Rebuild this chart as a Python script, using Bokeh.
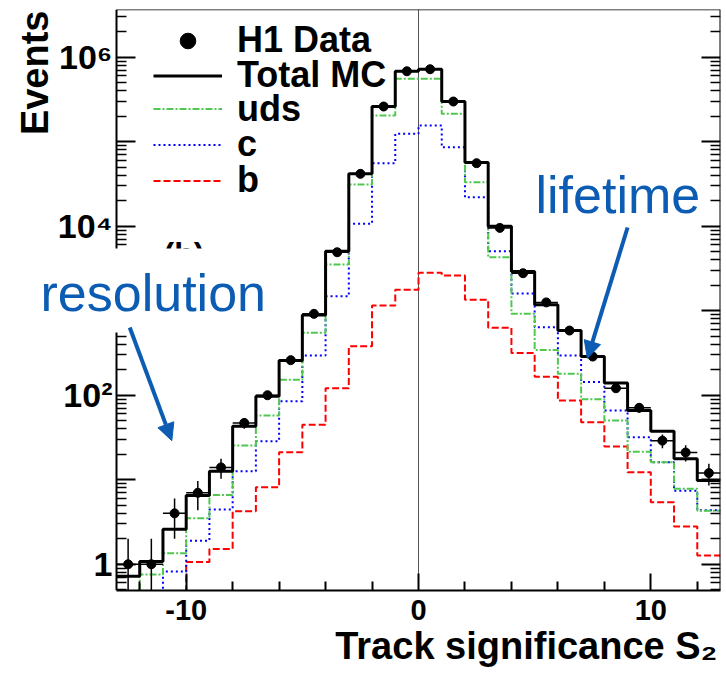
import numpy as np
from bokeh.plotting import figure
from bokeh.models import (Range1d, FixedTicker, LogAxis, LinearAxis, Label, Arrow,
                          NormalHead, Span, Legend, LegendItem, Title, BoxAnnotation)
from bokeh.embed import file_html
from bokeh.resources import INLINE

# ---------------- data ----------------
bin_edges = list(range(-13, 14))                       # 26 bins of width 1
bin_centers = [e + 0.5 for e in range(-13, 13)]

h1_data = [1, 1, 4, 7, 14, 47, 100, 260, 919, 4920, 41700, 261000, 682000,
           721000, 299000, 55700, 9560, 2780, 1255, 583, 287, 121, 71, 29, 21, 12]
total_mc = [0.72, 1.08, 2.6, 6.5, 12.6, 43, 97, 258, 890, 5060, 41700, 261000, 682000,
            721000, 299000, 56800, 10000, 2910, 1175, 583, 287, 140, 66, 37.5, 17.7, 9.8]
uds = [0.45, 0.755, 1.35, 3.5, 6.6, 25.5, 57.5, 152, 547, 3520, 31100, 204000, 555000,
       555000, 214000, 33200, 4300, 918, 344, 179, 89.7, 50.2, 21.4, 16.1, 7.8, 4.3]
c_quark = [0.18, 0.2, 0.82, 1.9, 4.45, 12.6, 28.6, 85, 295, 1485, 10700, 55700, 124000,
           156000, 86100, 22000, 5060, 1600, 638, 295, 143, 66, 31.8, 16.1, 7.4, 4.35]
b_quark = [0.09, 0.12, 0.42, 1.06, 1.52, 4.24, 8.15, 21.1, 44.7, 121, 380, 1150, 1770,
           2810, 2610, 1345, 628, 317, 166, 86.5, 47.9, 24.7, 12.3, 5.4, 2.8, 1.27]

x_min, x_max = -13, 13
y_min, y_max = 0.489, 3.67e6
x_tick_values = [-10, 0, 10]
x_tick_labels = ["-10", "0", "10"]
x_minor_values = [-12, -8, -6, -4, -2, 2, 4, 6, 8, 12]
y_major_values = [1, 10, 100, 1e3, 1e4, 1e5, 1e6]
y_tick_labels = ["1", "", "10²", "", "10⁴", "", "10⁶"]

series_names = ["H1 Data", "Total MC", "uds", "c", "b"]
x_title = "Track significance S₂"
y_title = "Events"

res_arrow_x = [-12.43, -10.62]
res_arrow_y = [632, 29]
life_arrow_x = [9.0, 7.27]
life_arrow_y = [9660, 273]

# ---------------- layout / styles ----------------
W, H = 726, 682
AXIS_LEFT_PX = 116          # where the y axis sits
FRAME_RIGHT_PX = 720
FRAME_TOP_PX = 9
FRAME_BOTTOM_PX = 590
ppu = (FRAME_RIGHT_PX - AXIS_LEFT_PX) / (x_max - x_min)
x_view_start = x_min - AXIS_LEFT_PX / ppu     # frame extends to the canvas left edge

FONT = "Liberation Sans"
GREEN = "#50c850"
BLUE = "#0000ff"
RED = "#ff0000"
ANNOT = "#0b5cb2"
MID = 0.347   # (ascent - descent) / 2 in em, to turn a baseline into a box centre

p = figure(width=W, height=H, x_range=Range1d(x_view_start, x_max),
           y_range=Range1d(y_min, y_max), y_axis_type="log",
           output_backend="svg", toolbar_location=None,
           min_border_left=0, min_border_right=W - FRAME_RIGHT_PX,
           min_border_top=FRAME_TOP_PX, min_border_bottom=H - FRAME_BOTTOM_PX)
p.xgrid.visible = False
p.ygrid.visible = False
p.outline_line_color = None
p.background_fill_color = "white"
p.border_fill_color = "white"

# vertical line at zero
p.add_layout(Span(location=0, dimension="height", line_color="#555555",
                  line_width=1, level="underlay"))

def step_y(vals):
    return list(vals) + [vals[-1]]

r_b = p.step(bin_edges, step_y(b_quark), mode="after", line_color=RED,
             line_width=2, line_dash="7 3")
r_c = p.step(bin_edges, step_y(c_quark), mode="after", line_color=BLUE,
             line_width=2, line_dash="2 3")
r_uds = p.step(bin_edges, step_y(uds), mode="after", line_color=GREEN,
               line_width=2, line_dash="7 2 2 2")
r_tot = p.step(bin_edges, step_y(total_mc), mode="after", line_color="black",
               line_width=3)

# data with sqrt(N) errors
n = np.array(h1_data, dtype=float)
xc = np.array(bin_centers)
err = np.sqrt(n)
p.segment(x0=xc, y0=np.maximum(n - err, y_min), x1=xc, y1=n + err,
          line_color="black", line_width=1.5)
p.segment(x0=xc - 0.5, y0=n, x1=xc + 0.5, y1=n, line_color="black", line_width=1.5)
r_data = p.scatter(xc, n, size=9, color="black")

# ---------------- axes ----------------
xa = p.xaxis[0]
xa.bounds = (x_min, x_max)
xa.ticker = FixedTicker(ticks=x_tick_values, minor_ticks=x_minor_values)
xa.major_label_overrides = {v: s for v, s in zip(x_tick_values, x_tick_labels)}
xa.major_tick_in = 17
xa.major_tick_out = 0
xa.minor_tick_in = 9
xa.minor_tick_out = 0
xa.axis_line_width = 2
xa.major_tick_line_width = 2
xa.minor_tick_line_width = 2
xa.major_label_text_font = FONT
xa.major_label_text_font_style = "bold"
xa.major_label_text_font_size = "29px"
xa.major_label_text_color = "black"
xa.major_label_standoff = 9

y_minor = [m * 10.0 ** e for e in range(-1, 7) for m in range(2, 10)]
ya = p.yaxis[0]
ya.fixed_location = x_min
ya.ticker = FixedTicker(ticks=y_major_values, minor_ticks=y_minor)
ya.major_label_overrides = {float(v): s for v, s in zip(y_major_values, y_tick_labels)}
ya.major_tick_in = 19
ya.major_tick_out = 0
ya.minor_tick_in = 10
ya.minor_tick_out = 0
ya.axis_line_width = 2
ya.major_tick_line_width = 2
ya.minor_tick_line_width = 1.5
ya.major_label_text_font = FONT
ya.major_label_text_font_style = "bold"
ya.major_label_text_font_size = "34px"
ya.major_label_text_color = "black"
ya.major_label_standoff = 4

ra = LogAxis(fixed_location=x_max,
             ticker=FixedTicker(ticks=y_major_values, minor_ticks=y_minor),
             major_label_overrides={float(v): "" for v in y_major_values},
             major_label_text_font_size="0px", major_label_standoff=0,
             major_tick_in=19, major_tick_out=0, minor_tick_in=10, minor_tick_out=0,
             axis_line_width=2, major_tick_line_width=2, minor_tick_line_width=1.5)
p.add_layout(ra, "right")

ta = LinearAxis(fixed_location=y_max, bounds=(x_min, x_max),
                ticker=FixedTicker(ticks=[], minor_ticks=[]),
                major_label_text_font_size="0px", major_label_standoff=0,
                major_tick_in=0, major_tick_out=0, minor_tick_in=0, minor_tick_out=0,
                axis_line_width=1.5)
p.add_layout(ta, "above")

p.add_layout(Title(text=x_title, align="right", offset=3, standoff=0,
                   text_font=FONT, text_font_style="bold", text_font_size="38px",
                   text_color="black"), "below")

# ---------------- legend (one box per row for exact spacing) ----------------
legend_renderers = [r_data, r_tot, r_uds, r_c, r_b]
row_centers_px = [41.7, 76.7, 110.0, 145.7, 181.7]
ROW_H = 39
for name, rend, cy in zip(series_names, legend_renderers, row_centers_px):
    lg = Legend(items=[LegendItem(label=name, renderers=[rend])],
                location=(153, FRAME_BOTTOM_PX - cy - ROW_H / 2),
                label_text_font=FONT, label_text_font_style="bold",
                label_text_font_size="36px", label_text_color="black",
                glyph_width=69, glyph_height=ROW_H,
                label_height=ROW_H, spacing=0, padding=0, margin=0, label_standoff=15,
                border_line_alpha=0, background_fill_alpha=0)
    p.add_layout(lg)

# ---------------- titles & annotations ----------------
def lab(x_px, base_px, fs, **kw):
    """Label whose text baseline sits at screen row base_px (from the top)."""
    return Label(x=x_px, y=FRAME_BOTTOM_PX - (base_px - MID * fs), x_units="screen",
                 y_units="screen", text_baseline="middle", text_font=FONT,
                 text_font_size=f"{fs}px", **kw)

# rotated y title: baseline is the column x=48, text ends at row 10
p.add_layout(Label(x=48 - MID * 38, y=FRAME_BOTTOM_PX - 10, x_units="screen",
                   y_units="screen", text=y_title, angle=90, angle_units="deg",
                   text_align="right", text_baseline="middle", text_font=FONT,
                   text_font_style="bold", text_font_size="38px", text_color="black"))
p.add_layout(lab(163, 265, 32, text="(b)", text_align="left", text_font_style="bold",
                 text_color="black"))
# white box of the "resolution" text (hides part of the axis and of "(b)")
p.add_layout(BoxAnnotation(left=30, right=282, top=FRAME_BOTTOM_PX - 248,
                           bottom=FRAME_BOTTOM_PX - 332, left_units="screen",
                           right_units="screen", top_units="screen",
                           bottom_units="screen", fill_color="white", fill_alpha=1.0,
                           line_color=None))
p.add_layout(lab(40, 311, 52, text="resolution", text_align="left", text_color=ANNOT))
p.add_layout(lab(535, 213, 52, text="lifetime", text_align="left", text_color=ANNOT))

for ax_, ay_ in ((res_arrow_x, res_arrow_y), (life_arrow_x, life_arrow_y)):
    p.add_layout(Arrow(end=NormalHead(size=17, fill_color=ANNOT, line_color=ANNOT),
                       x_start=ax_[0], y_start=ay_[0], x_end=ax_[1], y_end=ay_[1],
                       line_color=ANNOT, line_width=4))

open("out.html", "w").write(file_html(p, INLINE))
